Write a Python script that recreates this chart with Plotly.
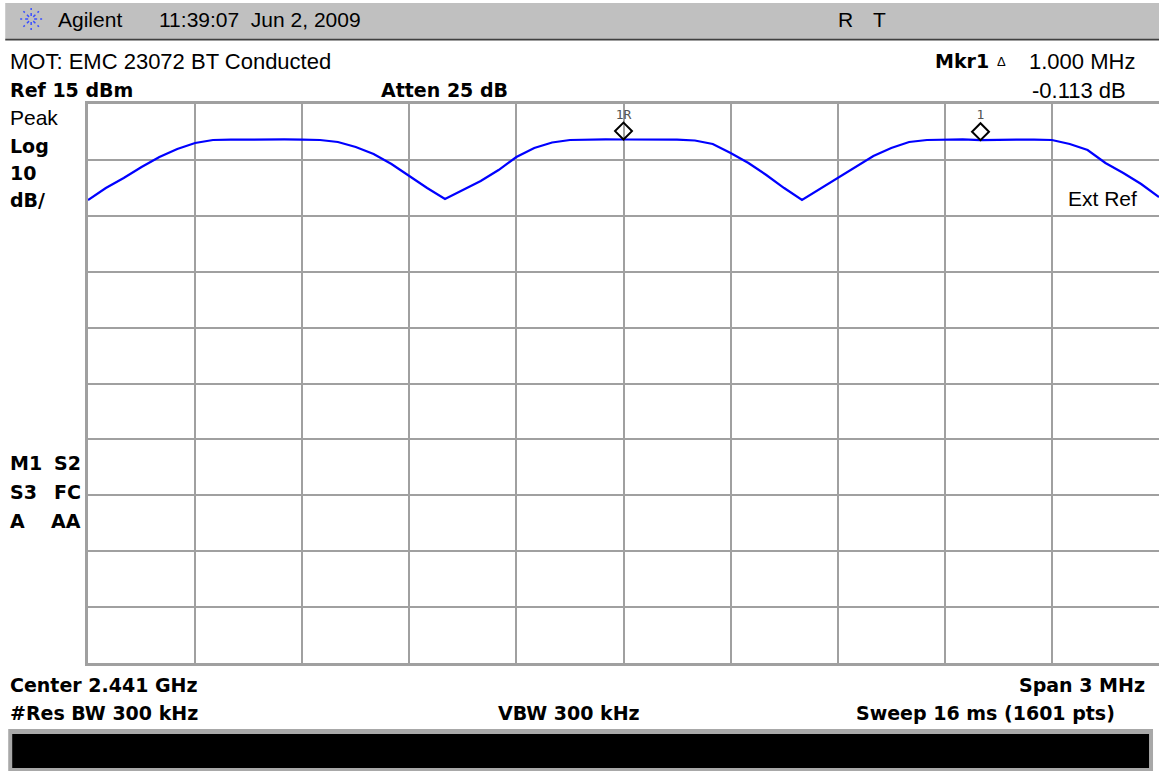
import math
import plotly.graph_objects as go

# ---------------- data ----------------
center_mhz = 2441.0
span_mhz = 3.0
ref_level_dbm = 15.0
db_per_div = 10.0

freq_mhz = [2439.50, 2439.55, 2439.60, 2439.65, 2439.70, 2439.75, 2439.80, 2439.85, 2439.90, 2439.95,
            2440.00, 2440.05, 2440.10, 2440.15, 2440.20, 2440.25, 2440.30, 2440.35, 2440.40, 2440.45,
            2440.50, 2440.55, 2440.60, 2440.65, 2440.70, 2440.75, 2440.80, 2440.85, 2440.90, 2440.95,
            2441.00, 2441.05, 2441.10, 2441.15, 2441.20, 2441.25, 2441.30, 2441.35, 2441.40, 2441.45,
            2441.50, 2441.55, 2441.60, 2441.65, 2441.70, 2441.75, 2441.80, 2441.85, 2441.90, 2441.95,
            2442.00, 2442.05, 2442.10, 2442.15, 2442.20, 2442.25, 2442.30, 2442.35, 2442.40, 2442.45,
            2442.50]
level_dbm = [-2.17, -0.03, 1.76, 3.73, 5.52, 6.95, 8.02, 8.56, 8.62, 8.67,
             8.65, 8.66, 8.63, 8.56, 8.20, 7.31, 6.06, 4.27, 2.12, -0.03,
             -1.99, -0.38, 1.23, 3.19, 5.52, 7.13, 8.11, 8.56, 8.64, 8.66,
             8.65, 8.63, 8.66, 8.62, 8.47, 7.84, 6.23, 4.45, 2.30, -0.03,
             -2.17, -0.21, 1.76, 3.73, 5.70, 7.13, 8.20, 8.56, 8.63, 8.66,
             8.54, 8.65, 8.64, 8.62, 8.56, 7.84, 6.77, 4.45, 2.66, 0.69,
             -1.64]

marker_freq_mhz = [2441.0, 2442.0]
marker_level_dbm = [8.65, 8.54]
marker_labels = ["1R", "1"]

# ---------------- layout geometry ----------------
W, H = 1162, 771          # plot frame runs just past the 1159 px window edge
L, R, T, B = 88, 0, 104, 108
PW = W - L - R
PH = H - T - B

def px(x):
    return (x - L) / PW

def py(y):
    return (H - B - y) / PH

REG = "Liberation Sans, Arial, sans-serif"
BOLD = "DejaVu Sans, Verdana, sans-serif"
GRID = "#a0a0a0"

fig = go.Figure()

fig.add_trace(go.Scatter(
    x=freq_mhz, y=level_dbm, mode="lines",
    line=dict(color="#0000ff", width=2.2), hoverinfo="skip", showlegend=False))

MARKER_OFFSET_DB = 1.5
fig.add_trace(go.Scatter(
    x=marker_freq_mhz, y=[v + MARKER_OFFSET_DB for v in marker_level_dbm],
    mode="markers+text",
    marker=dict(symbol="diamond-open", size=13, color="black", line=dict(width=2, color="black")),
    text=marker_labels, textposition="top center",
    textfont=dict(family="DejaVu Sans Mono, monospace", size=13, color="#555555"),
    hoverinfo="skip", showlegend=False))

x0 = center_mhz - span_mhz / 2
x1 = center_mhz + span_mhz / 2
y1 = ref_level_dbm
y0 = ref_level_dbm - 10 * db_per_div

fig.update_xaxes(range=[x0, x1], tick0=x0, dtick=span_mhz / 10, showticklabels=False,
                 ticks="", showgrid=True, gridcolor=GRID, gridwidth=2, zeroline=False,
                 showline=True, linecolor=GRID, linewidth=3, mirror=True, fixedrange=True)
fig.update_yaxes(range=[y0, y1], tick0=y0, dtick=db_per_div, showticklabels=False,
                 ticks="", showgrid=True, gridcolor=GRID, gridwidth=2, zeroline=False,
                 showline=True, linecolor=GRID, linewidth=3, mirror=True, fixedrange=True)

shapes = []
# top grey status bar
shapes.append(dict(type="rect", xref="paper", yref="paper", x0=px(5), x1=px(1162), y0=py(38), y1=py(3),
                   fillcolor="#c0c0c0", line=dict(width=0), layer="below"))
shapes.append(dict(type="line", xref="paper", yref="paper", x0=px(5), x1=px(1162), y0=py(39.5), y1=py(39.5),
                   line=dict(color="#404040", width=2)))
# bottom black message bar
shapes.append(dict(type="rect", xref="paper", yref="paper", x0=px(8), x1=px(1156), y0=py(771), y1=py(729),
                   fillcolor="#a8a8a8", line=dict(width=0), layer="below"))
shapes.append(dict(type="rect", xref="paper", yref="paper", x0=px(12), x1=px(1152), y0=py(768), y1=py(734),
                   fillcolor="#000000", line=dict(width=0), layer="below"))
# Agilent starburst logo
cx, cy = 31, 19
for k in range(8):
    a = k * math.pi / 4
    shapes.append(dict(type="line", xref="paper", yref="paper",
                       x0=px(cx + 3 * math.cos(a)), y0=py(cy + 3 * math.sin(a)),
                       x1=px(cx + 11 * math.cos(a)), y1=py(cy + 11 * math.sin(a)),
                       line=dict(color="#3a4fff", width=1.5, dash="dot")))

ann = []
def text(t, x, y, size=20, bold=False, anchor="left", color="black", family=None):
    ann.append(dict(text=t, xref="paper", yref="paper", x=px(x), y=py(y), xanchor=anchor, yanchor="middle",
                    showarrow=False, font=dict(family=family or (BOLD if bold else REG), size=size, color=color)))

text("Agilent", 56, 19, 21)
text("11:39:07  Jun 2, 2009", 157, 19, 21)
text("R", 838, 19, 21)
text("T", 873, 19, 21)
text("MOT: EMC 23072 BT Conducted", 8, 61, 22)
text("<b>Mkr1</b>", 935, 61, 19, bold=True)
text("\u0394", 998, 62, 13)
text("1.000 MHz", 1140, 61, 22, anchor="right")
text("<b>Ref 15 dBm</b>", 8, 90, 19, bold=True)
text("<b>Atten 25 dB</b>", 380, 90, 19, bold=True)
text("-0.113 dB", 1131, 90, 22, anchor="right")
text("Peak", 8, 117, 21)
text("<b>Log</b>", 8, 146, 19, bold=True)
text("<b>10</b>", 8, 173, 19, bold=True)
text("<b>dB/</b>", 8, 200, 19, bold=True)
text("Ext Ref", 1142, 198, 21, anchor="right")
for i, (a, b) in enumerate([("M1", "S2"), ("S3", "FC"), ("A", "AA")]):
    yy = 463 + 29 * i
    text("<b>%s</b>" % a, 8, yy, 19, bold=True)
    text("<b>%s</b>" % b, 83, yy, 19, bold=True, anchor="right")
text("<b>Center 2.441 GHz</b>", 8, 685, 19, bold=True)
text("<b>Span 3 MHz</b>", 1150, 685, 19, bold=True, anchor="right")
text("<b>#Res BW 300 kHz</b>", 8, 713, 19, bold=True)
text("<b>VBW 300 kHz</b>", 497, 713, 19, bold=True)
text("<b>Sweep 16 ms (1601 pts)</b>", 1120, 713, 19, bold=True, anchor="right")

fig.update_layout(width=W, height=H, margin=dict(l=L, r=R, t=T, b=B, pad=0),
                  paper_bgcolor="white", plot_bgcolor="white",
                  shapes=shapes, annotations=ann, showlegend=False)

fig.write_html("out.html", config={"displayModeBar": False},
               post_script="document.body.style.margin='0';document.body.style.overflow='hidden';")
